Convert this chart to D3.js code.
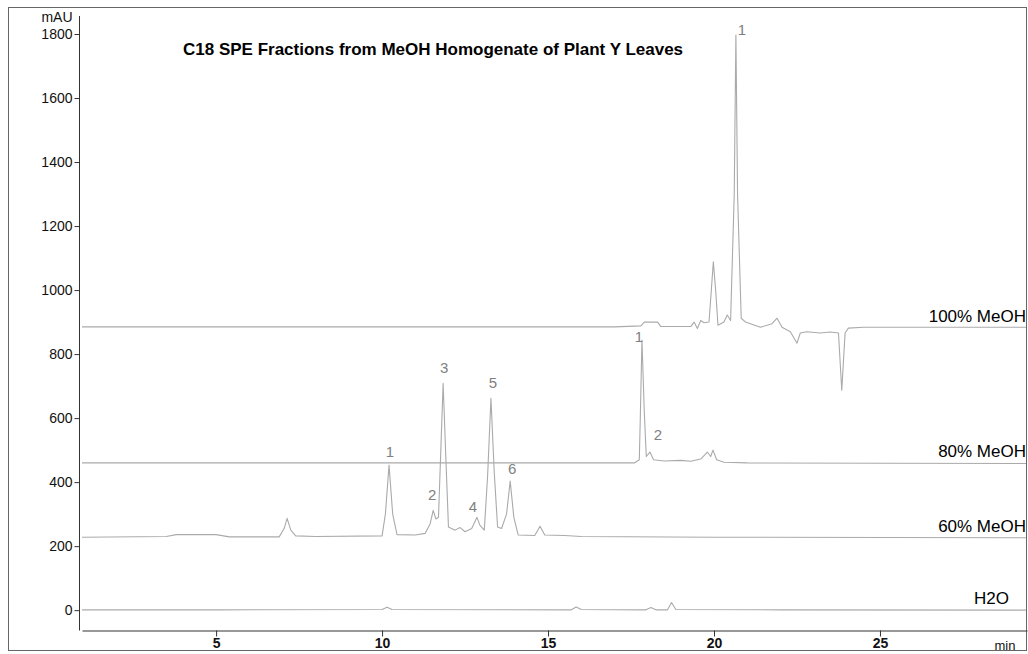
<!DOCTYPE html>
<html>
<head>
<meta charset="utf-8">
<script src="https://cdn.jsdelivr.net/npm/d3@7"></script>
<style>
  html, body { margin: 0; padding: 0; background: #fff; }
  svg { display: block; }
  text { font-family: "Liberation Sans", Arial, Helvetica, sans-serif; }
</style>
</head>
<body>
<svg id="chart" width="1028" height="654"></svg>
<script>
// ---------- DATA ----------
const chartTitle = "C18 SPE Fractions from MeOH Homogenate of Plant Y Leaves";
const yUnit = "mAU";
const xUnit = "min";
const yMajorTicks = [0, 200, 400, 600, 800, 1000, 1200, 1400, 1600, 1800];
const xMajorTicks = [5, 10, 15, 20, 25];
const seriesNames = ["100% MeOH", "80% MeOH", "60% MeOH", "H2O"];

// [time (min), absorbance (mAU)]
const h2oTrace = [[0.96,1],[5,1],[10.0,2],[10.15,9],[10.3,2],[15.7,1],[15.85,10],[16.0,2],[17.95,1],[18.1,8],[18.25,1],[18.6,1],[18.72,24],[18.85,2],[22.0,1],[29.4,0]];

const meoh60Trace = [[0.96,228],[3.5,230],[3.8,236],[5.0,236],[5.4,229],[6.9,229],[7.05,255],[7.14,287],[7.25,250],[7.4,232],[8,230],[10.0,232],[10.1,300],[10.21,453],[10.32,300],[10.45,236],[11.0,235],[11.3,240],[11.45,270],[11.54,312],[11.62,285],[11.7,290],[11.77,500],[11.84,709],[11.92,480],[12.0,260],[12.2,250],[12.35,258],[12.5,245],[12.7,255],[12.86,290],[12.95,265],[13.08,250],[13.18,420],[13.28,662],[13.38,430],[13.48,260],[13.6,255],[13.75,300],[13.86,403],[13.97,290],[14.1,235],[14.6,233],[14.76,262],[14.9,235],[15.5,233],[16,230],[20,228],[29.4,226]];

const meoh80Trace = [[0.96,460],[10,460],[17.6,460],[17.75,470],[17.78,600],[17.83,844],[17.9,620],[17.96,480],[18.07,494],[18.18,470],[18.5,466],[19.0,468],[19.3,465],[19.6,472],[19.8,494],[19.9,480],[19.97,500],[20.08,470],[20.3,462],[21,460],[29.4,458]];

const meoh100Trace = [[0.96,885],[17.0,885],[17.8,888],[17.9,900],[18.3,900],[18.4,886],[19.3,886],[19.4,900],[19.5,880],[19.6,905],[19.7,898],[19.85,900],[19.92,1000],[19.98,1088],[20.05,1000],[20.12,890],[20.3,900],[20.4,922],[20.5,905],[20.61,1300],[20.66,1797],[20.71,1300],[20.82,912],[20.95,900],[21.1,895],[21.4,884],[21.75,895],[21.9,912],[22.05,884],[22.3,870],[22.5,834],[22.6,866],[22.8,870],[23.2,866],[23.5,869],[23.75,866],[23.85,687],[23.95,866],[24.05,881],[24.5,884],[29.4,884]];

// series label anchor: [time, mAU]
const seriesLabelPos = [[29.4, 900], [29.4, 480], [29.4, 244], [28.89, 19]];

// peak labels: text, time, mAU (label anchor)
const peakLabelText = ["1", "1", "2", "1", "2", "3", "4", "5", "6"];
const peakLabelTime = [20.84, 17.74, 18.31, 10.24, 11.51, 11.87, 12.74, 13.34, 13.92];
const peakLabelValue = [1797, 838, 531, 478, 344, 741, 306, 694, 425];

// ---------- CHART ----------
const svg = d3.select("#chart");

const x = d3.scaleLinear().domain([0.96, 29.43]).range([82, 1027]);
const y = d3.scaleLinear().domain([-62, 1850]).range([630, 18]);

// outer frame
svg.append("rect")
  .attr("x", 8.5).attr("y", 7.5).attr("width", 1018).attr("height", 643)
  .attr("fill", "none").attr("stroke", "#666").attr("stroke-width", 1);

// traces
const traces = [meoh100Trace, meoh80Trace, meoh60Trace, h2oTrace];
const line = d3.line().x(d => x(d[0])).y(d => y(d[1]));
svg.append("g").selectAll("path").data(traces).join("path")
  .attr("d", line)
  .attr("fill", "none")
  .attr("stroke", "#aaaaaa")
  .attr("stroke-width", 1.1)
  .attr("stroke-linejoin", "round");

// y axis
const yMinor = d3.range(-50, 1851, 50);
const yAxisG = svg.append("g").attr("transform", "translate(79.5,0)");
yAxisG.call(d3.axisLeft(y).tickValues(yMinor).tickSize(3).tickFormat("").tickSizeOuter(0));
yAxisG.call(d3.axisLeft(y).tickValues(yMajorTicks).tickSize(5).tickFormat(d3.format("d")).tickSizeOuter(0));
yAxisG.selectAll("path.domain").attr("d", `M0,${y(1850)-2}V630.5`);
yAxisG.selectAll("line").attr("stroke", "#333");
yAxisG.selectAll("path").attr("stroke", "#333");
yAxisG.selectAll("text").attr("font-size", 14).attr("fill", "#111").attr("x", -7);
yAxisG.append("text").attr("x", -7).attr("y", y(1850)).attr("dy", "0.32em")
  .attr("text-anchor", "end").attr("font-size", 14).attr("fill", "#111").text(yUnit);

// x axis
const xMinor = d3.range(1, 30, 1);
const xAxisG = svg.append("g").attr("transform", "translate(0,630.5)");
xAxisG.call(d3.axisBottom(x).tickValues(xMinor).tickSize(3).tickFormat("").tickSizeOuter(0));
xAxisG.call(d3.axisBottom(x).tickValues(xMajorTicks).tickSize(6).tickFormat(d3.format("d")).tickSizeOuter(0));
xAxisG.selectAll("line").attr("stroke", "#333");
xAxisG.selectAll("path").attr("stroke", "#333");
xAxisG.selectAll("text").attr("font-size", 14).attr("fill", "#111").attr("y", 8).attr("font-weight", "bold");
xAxisG.append("text").attr("x", x(29.43) - 22).attr("y", 19)
  .attr("font-size", 13).attr("fill", "#111").text(xUnit);

// title
svg.append("text").attr("x", 183).attr("y", 55)
  .attr("font-size", 17).attr("font-weight", "bold").attr("fill", "#000")
  .text(chartTitle);

// series labels
svg.append("g").selectAll("text").data(seriesNames).join("text")
  .attr("x", (d, i) => x(seriesLabelPos[i][0]))
  .attr("y", (d, i) => y(seriesLabelPos[i][1]))
  .attr("text-anchor", "end")
  .attr("font-size", 17).attr("fill", "#000")
  .text(d => d);

// peak labels
svg.append("g").selectAll("text").data(peakLabelText).join("text")
  .attr("x", (d, i) => x(peakLabelTime[i]))
  .attr("y", (d, i) => y(peakLabelValue[i]))
  .attr("text-anchor", "middle")
  .attr("font-size", 15).attr("fill", "#808080")
  .text(d => d);
</script>
</body>
</html>
